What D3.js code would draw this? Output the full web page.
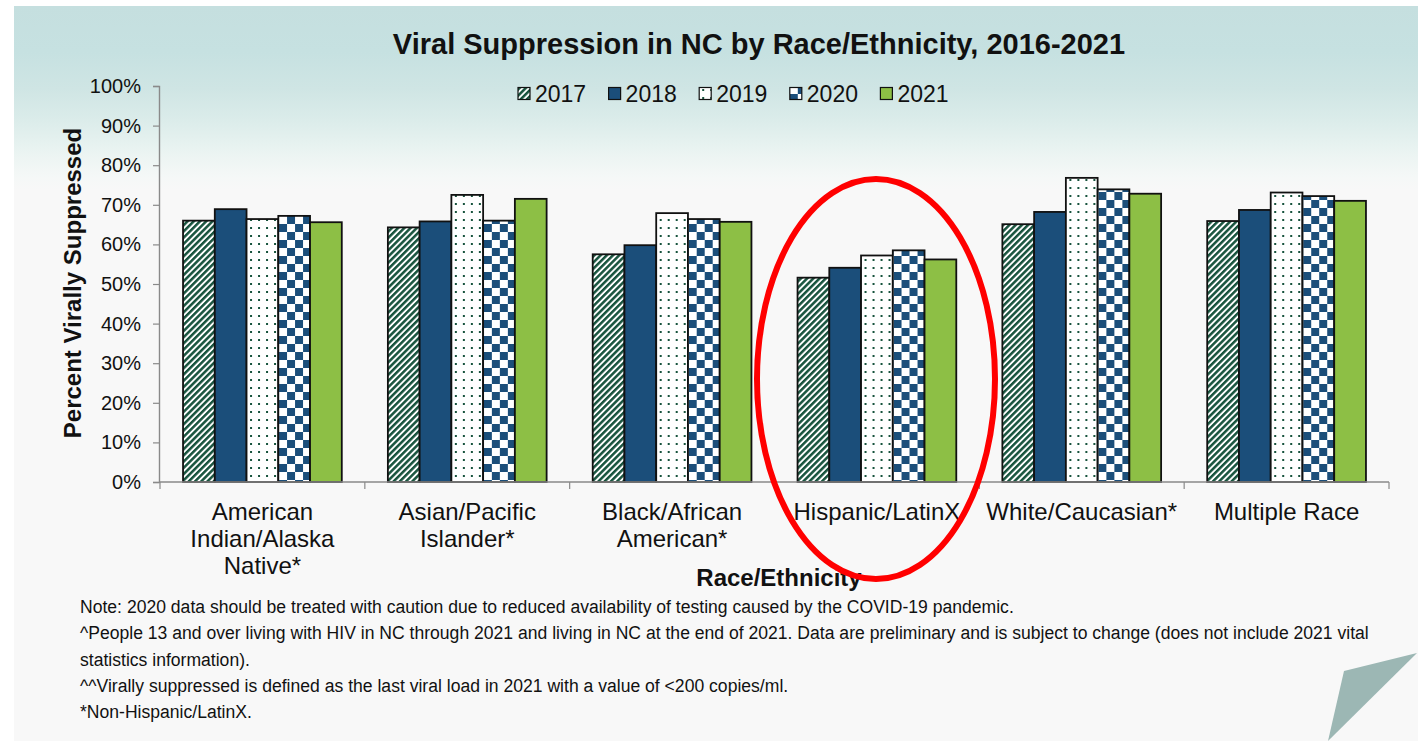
<!DOCTYPE html>
<html>
<head>
<meta charset="utf-8">
<script src="https://cdn.jsdelivr.net/npm/d3@7"></script>
<style>
  html, body { margin: 0; padding: 0; background: #ffffff; }
  svg { display: block; font-family: "Liberation Sans", Arial, Helvetica, sans-serif; }
</style>
</head>
<body>
<svg id="chart" width="1426" height="741"></svg>
<script>
// Race/ethnicity groups (each label line is a separate entry)
const categories = [
  ["American", "Indian/Alaska", "Native*"],
  ["Asian/Pacific", "Islander*"],
  ["Black/African", "American*"],
  ["Hispanic/LatinX"],
  ["White/Caucasian*"],
  ["Multiple Race"]
];
const years = ["2017", "2018", "2019", "2020", "2021"];

// Percent virally suppressed, one array per year, in category order
const v2017 = [66.0, 64.3, 57.5, 51.6, 65.1, 65.9];
const v2018 = [68.9, 65.8, 59.8, 54.1, 68.2, 68.7];
const v2019 = [66.4, 72.5, 67.9, 57.2, 76.8, 73.1];
const v2020 = [67.2, 66.0, 66.4, 58.5, 73.9, 72.2];
const v2021 = [65.6, 71.5, 65.7, 56.2, 72.8, 71.0];

const yTicks = [0, 10, 20, 30, 40, 50, 60, 70, 80, 90, 100];

const title = "Viral Suppression in NC by Race/Ethnicity, 2016-2021";
const yTitle = "Percent Virally Suppressed";
const xTitle = "Race/Ethnicity";
const notes = [
  "Note: 2020 data should be treated with caution due to reduced availability of testing caused by the COVID-19 pandemic.",
  "^People 13 and over living with HIV in NC through 2021 and living in NC at the end of 2021. Data are preliminary and is subject to change (does not include 2021 vital",
  "statistics information).",
  "^^Virally suppressed is defined as the last viral load in 2021 with a value of <200 copies/ml.",
  "*Non-Hispanic/LatinX."
];

const seriesValues = [v2017, v2018, v2019, v2020, v2021];
const catKeys = categories.map(c => c.join(" "));
const rows = catKeys.map((k, i) => ({
  key: k,
  lines: categories[i],
  values: years.map((y, j) => ({ year: y, idx: j, value: seriesValues[j][i] }))
}));

const svg = d3.select("#chart");
const defs = svg.append("defs");

// Slide background with a teal band fading down from the top
const bg = defs.append("linearGradient").attr("id", "slideBg")
  .attr("gradientUnits", "userSpaceOnUse")
  .attr("x1", 0).attr("y1", 6).attr("x2", 0).attr("y2", 190);
[[0, "#c5dfdf"], [0.25, "#c6e1e1"], [0.45, "#cfe5e4"], [0.62, "#dbecea"], [0.8, "#ebf4f2"], [0.93, "#f5f8f7"], [1, "#f8f8f8"]]
  .forEach(([o, c]) => bg.append("stop").attr("offset", o).attr("stop-color", c));

svg.append("rect").attr("x", 14).attr("y", 6).attr("width", 1404).attr("height", 735)
  .attr("fill", "#f8f8f8");
svg.append("rect").attr("x", 14).attr("y", 6).attr("width", 1404).attr("height", 184)
  .attr("fill", "url(#slideBg)");

// Fill patterns
const green = "#17533d";
const blue = "#1b4e7a";
const lime = "#8dbf45";

const pStripe = defs.append("pattern").attr("id", "pStripe")
  .attr("patternUnits", "userSpaceOnUse").attr("width", 4.4).attr("height", 4.4)
  .attr("patternTransform", "rotate(45)");
pStripe.append("rect").attr("width", 4.4).attr("height", 4.4).attr("fill", "#ffffff");
pStripe.append("rect").attr("width", 2.5).attr("height", 4.4).attr("fill", green);

const pDots = defs.append("pattern").attr("id", "pDots")
  .attr("patternUnits", "userSpaceOnUse").attr("width", 8).attr("height", 8);
pDots.append("rect").attr("width", 8).attr("height", 8).attr("fill", "#ffffff");
pDots.append("rect").attr("x", 3).attr("y", 3).attr("width", 2).attr("height", 2).attr("fill", green);

const pCheck = defs.append("pattern").attr("id", "pCheck")
  .attr("patternUnits", "userSpaceOnUse").attr("width", 16).attr("height", 16);
pCheck.append("rect").attr("width", 16).attr("height", 16).attr("fill", "#ffffff");
pCheck.append("rect").attr("width", 8).attr("height", 8).attr("fill", blue);
pCheck.append("rect").attr("x", 8).attr("y", 8).attr("width", 8).attr("height", 8).attr("fill", blue);

const fills = ["url(#pStripe)", blue, "url(#pDots)", "url(#pCheck)", lime];

// Scales
const plot = { left: 160, right: 1389, top: 86, bottom: 482 };
const x0 = d3.scaleBand().domain(catKeys).range([plot.left, plot.right])
  .paddingInner(0.225).paddingOuter(0.1125);
const x1 = d3.scaleBand().domain(years).range([0, x0.bandwidth()]).padding(0);
const y = d3.scaleLinear().domain([0, 100]).range([plot.bottom, plot.top]);

// Title
svg.append("text").attr("x", 759).attr("y", 44)
  .attr("text-anchor", "middle").attr("dominant-baseline", "central")
  .attr("font-weight", "bold").attr("font-size", 29).attr("fill", "#111")
  .text(title);

// Bars
const groups = svg.append("g").selectAll("g").data(rows).join("g")
  .attr("transform", d => `translate(${x0(d.key)},0)`);
groups.selectAll("rect").data(d => d.values).join("rect")
  .attr("x", d => x1(d.year))
  .attr("y", d => y(d.value))
  .attr("width", x1.bandwidth())
  .attr("height", d => y(0) - y(d.value))
  .attr("fill", d => fills[d.idx])
  .attr("stroke", "#111")
  .attr("stroke-width", 1.8);

// Y axis
const yAxis = svg.append("g").attr("transform", `translate(${plot.left - 1},0)`)
  .call(d3.axisLeft(y).tickValues(yTicks).tickSize(6).tickPadding(12)
    .tickFormat(d => d + "%"));
yAxis.select(".domain").attr("stroke", "#8a8a8a").attr("stroke-width", 1.4);
yAxis.selectAll(".tick line").attr("stroke", "#8a8a8a").attr("stroke-width", 1.2);
yAxis.selectAll(".tick text").attr("font-size", 20).attr("fill", "#111")
  .attr("font-family", "Liberation Sans, Arial, sans-serif");

// X axis baseline and group separators
const xAxis = svg.append("g").attr("transform", `translate(0,${plot.bottom})`);
xAxis.append("line").attr("x1", plot.left - 1).attr("x2", plot.right)
  .attr("stroke", "#8a8a8a").attr("stroke-width", 1.4);
const bounds = catKeys.map(k => x0(k) - x0.step() * x0.paddingOuter()).concat([plot.right]);
xAxis.selectAll(".sep").data(bounds).join("line").attr("class", "sep")
  .attr("x1", d => d).attr("x2", d => d).attr("y1", 0).attr("y2", 7)
  .attr("stroke", "#8a8a8a").attr("stroke-width", 1.2);

// Category labels
const labels = svg.append("g").selectAll("text").data(rows).join("text")
  .attr("text-anchor", "middle").attr("font-size", 24).attr("fill", "#111");
labels.selectAll("tspan").data(d => d.lines.map((t, i) => ({ t, i, cx: x0(d.key) + x0.bandwidth() / 2 })))
  .join("tspan")
  .attr("x", d => d.cx)
  .attr("y", d => 520 + d.i * 27)
  .text(d => d.t);

// Axis titles
svg.append("text")
  .attr("transform", "translate(81,283) rotate(-90)")
  .attr("text-anchor", "middle")
  .attr("font-weight", "bold").attr("font-size", 24).attr("fill", "#111")
  .text(yTitle);
svg.append("text").attr("x", 779).attr("y", 586)
  .attr("text-anchor", "middle")
  .attr("font-weight", "bold").attr("font-size", 24).attr("fill", "#111")
  .text(xTitle);

// Legend
const legend = svg.append("g").selectAll("g").data(years).join("g")
  .attr("transform", (d, i) => `translate(${518 + i * 90.6},${94})`);
legend.append("rect").attr("x", 0).attr("y", -6.5).attr("width", 12).attr("height", 12)
  .attr("fill", (d, i) => fills[i]).attr("stroke", "#111").attr("stroke-width", 1.2);
legend.append("text").attr("x", 17).attr("y", 0).attr("dominant-baseline", "central")
  .attr("font-size", 23).attr("fill", "#111").text(d => d);

// Footnotes
const noteG = svg.append("g").attr("transform", "translate(80,0) scale(0.925,1)");
noteG.selectAll("text").data(notes).join("text")
  .attr("x", 0)
  .attr("y", (d, i) => 613 + i * 26.3)
  .attr("font-size", 19).attr("fill", "#111")
  .text(d => d);

// Highlight around the Hispanic/LatinX group
svg.append("ellipse").attr("cx", 876).attr("cy", 379).attr("rx", 119).attr("ry", 200)
  .attr("fill", "none").attr("stroke", "#ff0000").attr("stroke-width", 6);

// Page-curl corner
svg.append("polygon").attr("points", "1417,653 1344,671 1328,741")
  .attr("fill", "#9cb7b4");
</script>
</body>
</html>
